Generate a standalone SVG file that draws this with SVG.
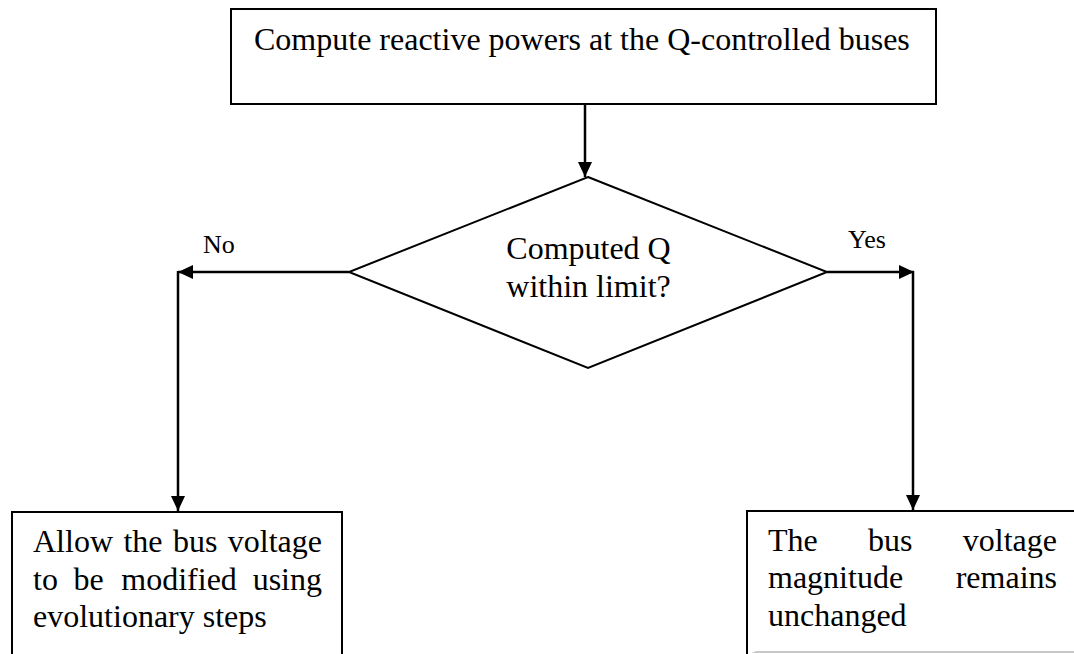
<svg xmlns="http://www.w3.org/2000/svg" width="1074" height="654" viewBox="0 0 1074 654">
<style>
  .box { fill: #ffffff; stroke: #000000; stroke-width: 2; }
  .edge { fill: none; stroke: #000000; stroke-width: 2.5; }
  .txt { font-family: "Liberation Serif", "Times New Roman", serif; font-size: 32px; fill: #000000; }
  .lbl { font-family: "Liberation Serif", "Times New Roman", serif; font-size: 26px; fill: #000000; }
</style>
<defs>
  <marker id="arrow" markerUnits="userSpaceOnUse" markerWidth="16" markerHeight="14" refX="15" refY="7" orient="auto">
    <path d="M0,0 L15,7 L0,14 Z" fill="#000000"/>
  </marker>
</defs>
<rect width="1074" height="654" fill="#ffffff"/>

<g id="connectors">
  <line class="edge" x1="585" y1="104" x2="585" y2="177" marker-end="url(#arrow)"/>
  <line class="edge" x1="349" y1="272" x2="178" y2="272" marker-end="url(#arrow)"/>
  <line class="edge" x1="178" y1="271" x2="178" y2="511" marker-end="url(#arrow)"/>
  <line class="edge" x1="827" y1="272" x2="914" y2="272" marker-end="url(#arrow)"/>
  <line class="edge" x1="913" y1="271" x2="913" y2="510" marker-end="url(#arrow)"/>
  <text class="lbl" x="203" y="253">No</text>
  <text class="lbl" x="848" y="248">Yes</text>
</g>

<g id="node-compute">
  <rect class="box" x="231" y="9" width="705" height="95"/>
  <text class="txt" x="254" y="50">Compute reactive powers at the Q-controlled buses</text>
</g>

<g id="node-decision">
  <polygon class="box" points="588,177 827,272 588,368 349,272"/>
  <text class="txt" x="588.5" y="259" text-anchor="middle">Computed Q</text>
  <text class="txt" x="588.5" y="297" text-anchor="middle">within limit?</text>
</g>

<g id="node-allow">
  <path class="box" d="M12,655 L12,512 L342,512 L342,655"/>
  <text class="txt" y="552"><tspan x="33">Allow</tspan><tspan x="123.4">the</tspan><tspan x="172.9">bus</tspan><tspan x="322" text-anchor="end">voltage</tspan></text>
  <text class="txt" y="590"><tspan x="33">to</tspan><tspan x="73.6">be</tspan><tspan x="121.3">modified</tspan><tspan x="322" text-anchor="end">using</tspan></text>
  <text class="txt" x="33" y="627">evolutionary steps</text>
</g>

<g id="node-unchanged">
  <path d="M747,652 L1074,652" fill="none" stroke="#c8c8c8" stroke-width="2"/>
  <path class="box" d="M747,655 L747,511 L1076,511" fill="none"/>
  <text class="txt" y="551"><tspan x="768">The</tspan><tspan x="868">bus</tspan><tspan x="1057" text-anchor="end">voltage</tspan></text>
  <text class="txt" y="588"><tspan x="768">magnitude</tspan><tspan x="1057" text-anchor="end">remains</tspan></text>
  <text class="txt" x="768" y="626">unchanged</text>
</g>
</svg>
